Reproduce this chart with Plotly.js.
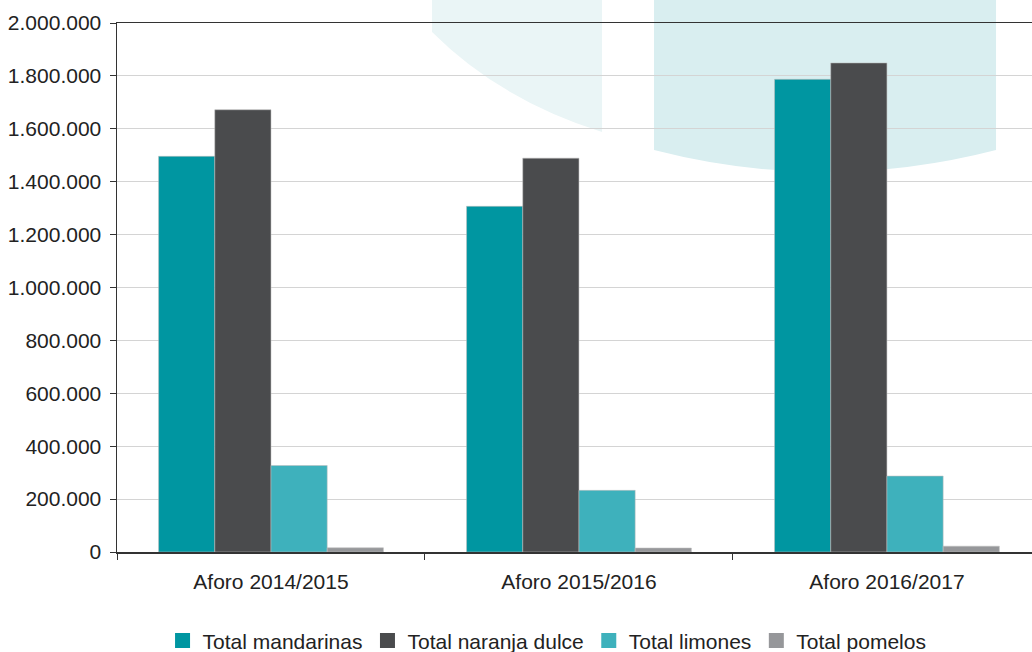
<!DOCTYPE html>
<html>
<head>
<meta charset="utf-8">
<script src="https://cdn.plot.ly/plotly-3.0.1.min.js"></script>
<style>html,body{margin:0;padding:0;background:#fff;}#chart{width:1032px;height:652px;}</style>
</head>
<body>
<div id="chart"></div>
<script>
const categories = ["Aforo 2014/2015", "Aforo 2015/2016", "Aforo 2016/2017"];
const seriesNames = ["Total mandarinas", "Total naranja dulce", "Total limones", "Total pomelos"];
const mandarinas = [1496000, 1307000, 1787000];
const naranjaDulce = [1672000, 1489000, 1849000];
const limones = [327000, 233000, 287000];
const pomelos = [16000, 15000, 22000];
const yTicks = [0, 200000, 400000, 600000, 800000, 1000000, 1200000, 1400000, 1600000, 1800000, 2000000];

const colors = ["#0096A1", "#4A4B4D", "#3EB1BC", "#96979A"];
const seriesValues = [mandarinas, naranjaDulce, limones, pomelos];

const traces = seriesValues.map((vals, i) => ({
  type: "bar",
  name: seriesNames[i],
  x: categories,
  y: vals,
  showlegend: false,
  marker: {color: colors[i], line: {width: 1, color: "rgba(190,190,190,0.55)"}},
  hoverinfo: "skip"
}));
// legend entries with larger square swatches
seriesNames.forEach((n, i) => traces.push({
  type: "scatter", mode: "markers", name: n, x: [null], y: [null],
  marker: {symbol: "square", size: 15, color: colors[i]}, hoverinfo: "skip"
}));

const L = 117, T = 23, W = 915, H = 529;
const px = v => (v - L) / W;
const py = v => (T + H - v) / H;
function p(x, y) { return px(x).toFixed(4) + "," + py(y).toFixed(4); }

const shapes = [
  {type: "path", xref: "paper", yref: "paper", layer: "below",
   path: "M" + p(432, 0) + " L" + p(602, 0) + " L" + p(602, 132) + " Q" + p(500, 100) + " " + p(432, 32) + " Z",
   fillcolor: "#EAF5F6", line: {width: 0}},
  {type: "path", xref: "paper", yref: "paper", layer: "below",
   path: "M" + p(654, 0) + " L" + p(996, 0) + " L" + p(996, 150) + " Q" + p(825, 194) + " " + p(654, 150) + " Z",
   fillcolor: "#D9EEF0", line: {width: 0}}
];

const font = {family: "Liberation Sans, Arial, Helvetica, sans-serif", size: 21, color: "#222"};

const layout = {
  width: 1032, height: 652,
  margin: {l: L, r: 0, t: T, b: 652 - T - H, pad: 0},
  paper_bgcolor: "#ffffff",
  plot_bgcolor: "rgba(0,0,0,0)",
  font: font,
  separators: ",.",
  barmode: "group",
  bargap: 0.27,
  bargroupgap: 0,
  showlegend: true,
  legend: {orientation: "h", xref: "paper", yref: "container", x: 0.47, xanchor: "center",
           y: 0.017, yanchor: "middle", font: font, traceorder: "normal",
           itemwidth: 30, itemsizing: "trace", tracegroupgap: 0},
  xaxis: {type: "category", range: [-0.5, 2.471], showline: true, linecolor: "#333", linewidth: 1.5,
          mirror: true, ticks: "outside", tickson: "boundaries", ticklen: 6, tickcolor: "#333",
          showgrid: false, tickfont: font, ticklabelstandoff: 10, fixedrange: true},
  yaxis: {range: [0, 2000000], tickvals: yTicks, tickformat: ",d", showline: true, linecolor: "#333",
          linewidth: 1.5, ticks: "outside", ticklen: 6, tickcolor: "#333", showgrid: true,
          gridcolor: "#d4d4d4", gridwidth: 1, zeroline: false, tickfont: font, ticklabelstandoff: 4,
          fixedrange: true},
  shapes: shapes
};

Plotly.newPlot("chart", traces, layout, {displayModeBar: false, staticPlot: true});
</script>
</body>
</html>
